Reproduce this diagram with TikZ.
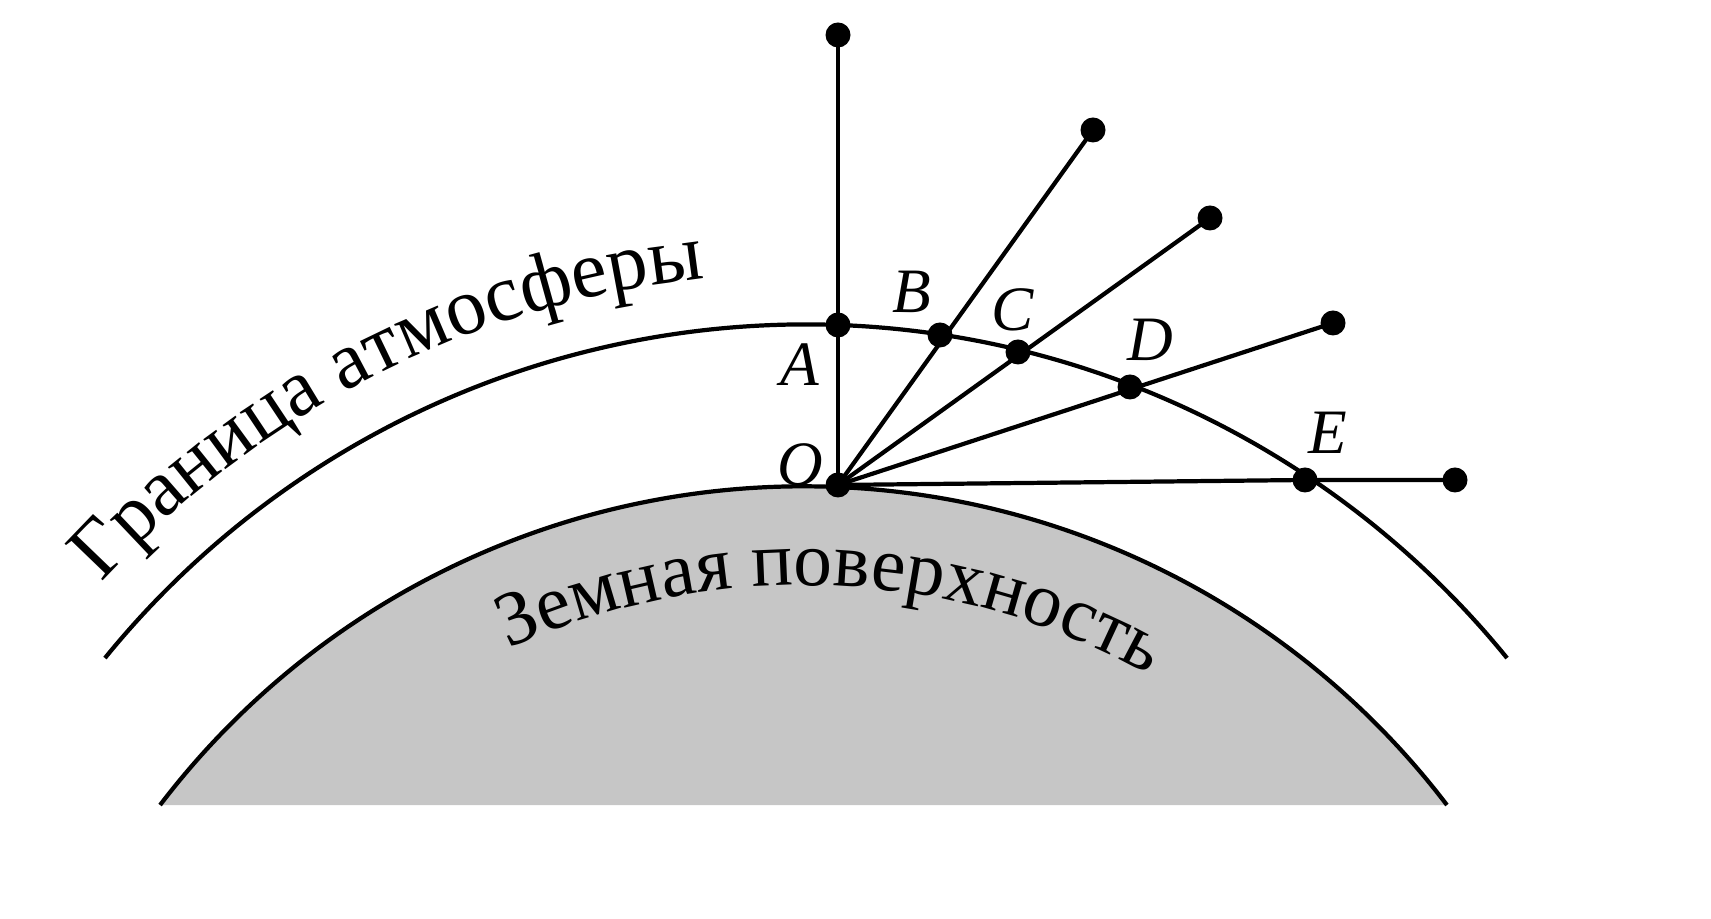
\documentclass[tikz,border=0pt]{standalone}
\usepackage{fontspec}
\setmainfont{Liberation Serif}
\usetikzlibrary{decorations.text}
\begin{document}
\begin{tikzpicture}[dot/.style={circle,fill=black,inner sep=0pt,minimum size=0.25cm},
	lbl/.style={font=\fontsize{18}{20}\selectfont\itshape},
	ray/.style={line width=1.2pt}]
	\useasboundingbox (0,0) rectangle (17.11,-9.19);
	% earth and atmosphere
	\coordinate (earthc) at (8.035,-12.952);
	\coordinate (atmc) at (8.06,-12.278);
	\fill[gray!45] (earthc) ++(142.7:8.089) arc[start angle=142.7,end angle=37.3,radius=8.089] -- cycle;
	\draw[ray] (earthc) ++(142.7:8.089) arc[start angle=142.7,end angle=37.3,radius=8.089];
	\draw[ray] (atmc) ++(140.9:9.034) arc[start angle=140.9,end angle=39.1,radius=9.034];
	\path[decorate,decoration={text along path,text={|\fontsize{23}{26}\selectfont|Граница атмосферы},text align=left}]
		(atmc) ++(137.5:9.55) arc[start angle=137.5,end angle=92,radius=9.55];
	\path[decorate,decoration={text along path,text={|\fontsize{22}{26}\selectfont|Земная поверхность},text align=left}]
		(earthc) ++(114.5:7.1) arc[start angle=114.5,end angle=55,radius=7.1];
	% points
	\node[dot] (O) at (8.38,-4.85) {};
	\node[dot] (A) at (8.38,-3.25) {};
	\node[dot] (B) at (9.40,-3.35) {};
	\node[dot] (C) at (10.18,-3.52) {};
	\node[dot] (D) at (11.30,-3.87) {};
	\node[dot] (E) at (13.05,-4.80) {};
	\node[dot] (a1) at (8.38,-0.35) {};
	\node[dot] (b1) at (10.93,-1.30) {};
	\node[dot] (c1) at (12.10,-2.18) {};
	\node[dot] (d1) at (13.33,-3.23) {};
	\node[dot] (e1) at (14.55,-4.80) {};
	\foreach \p in {a1,b1,c1,d1} \draw[ray] (O.center) -- (\p.center);
	\draw[ray] (O.center) -- (E.center) -- (e1.center);
	% labels
	\node[lbl] at (8.00,-3.65) {A};
	\node[lbl] at (9.12,-2.92) {B};
	\node[lbl] at (10.13,-3.10) {C};
	\node[lbl] at (11.50,-3.40) {D};
	\node[lbl] at (13.28,-4.33) {E};
	\node[lbl] at (8.00,-4.65) {O};
\end{tikzpicture}
\end{document}
